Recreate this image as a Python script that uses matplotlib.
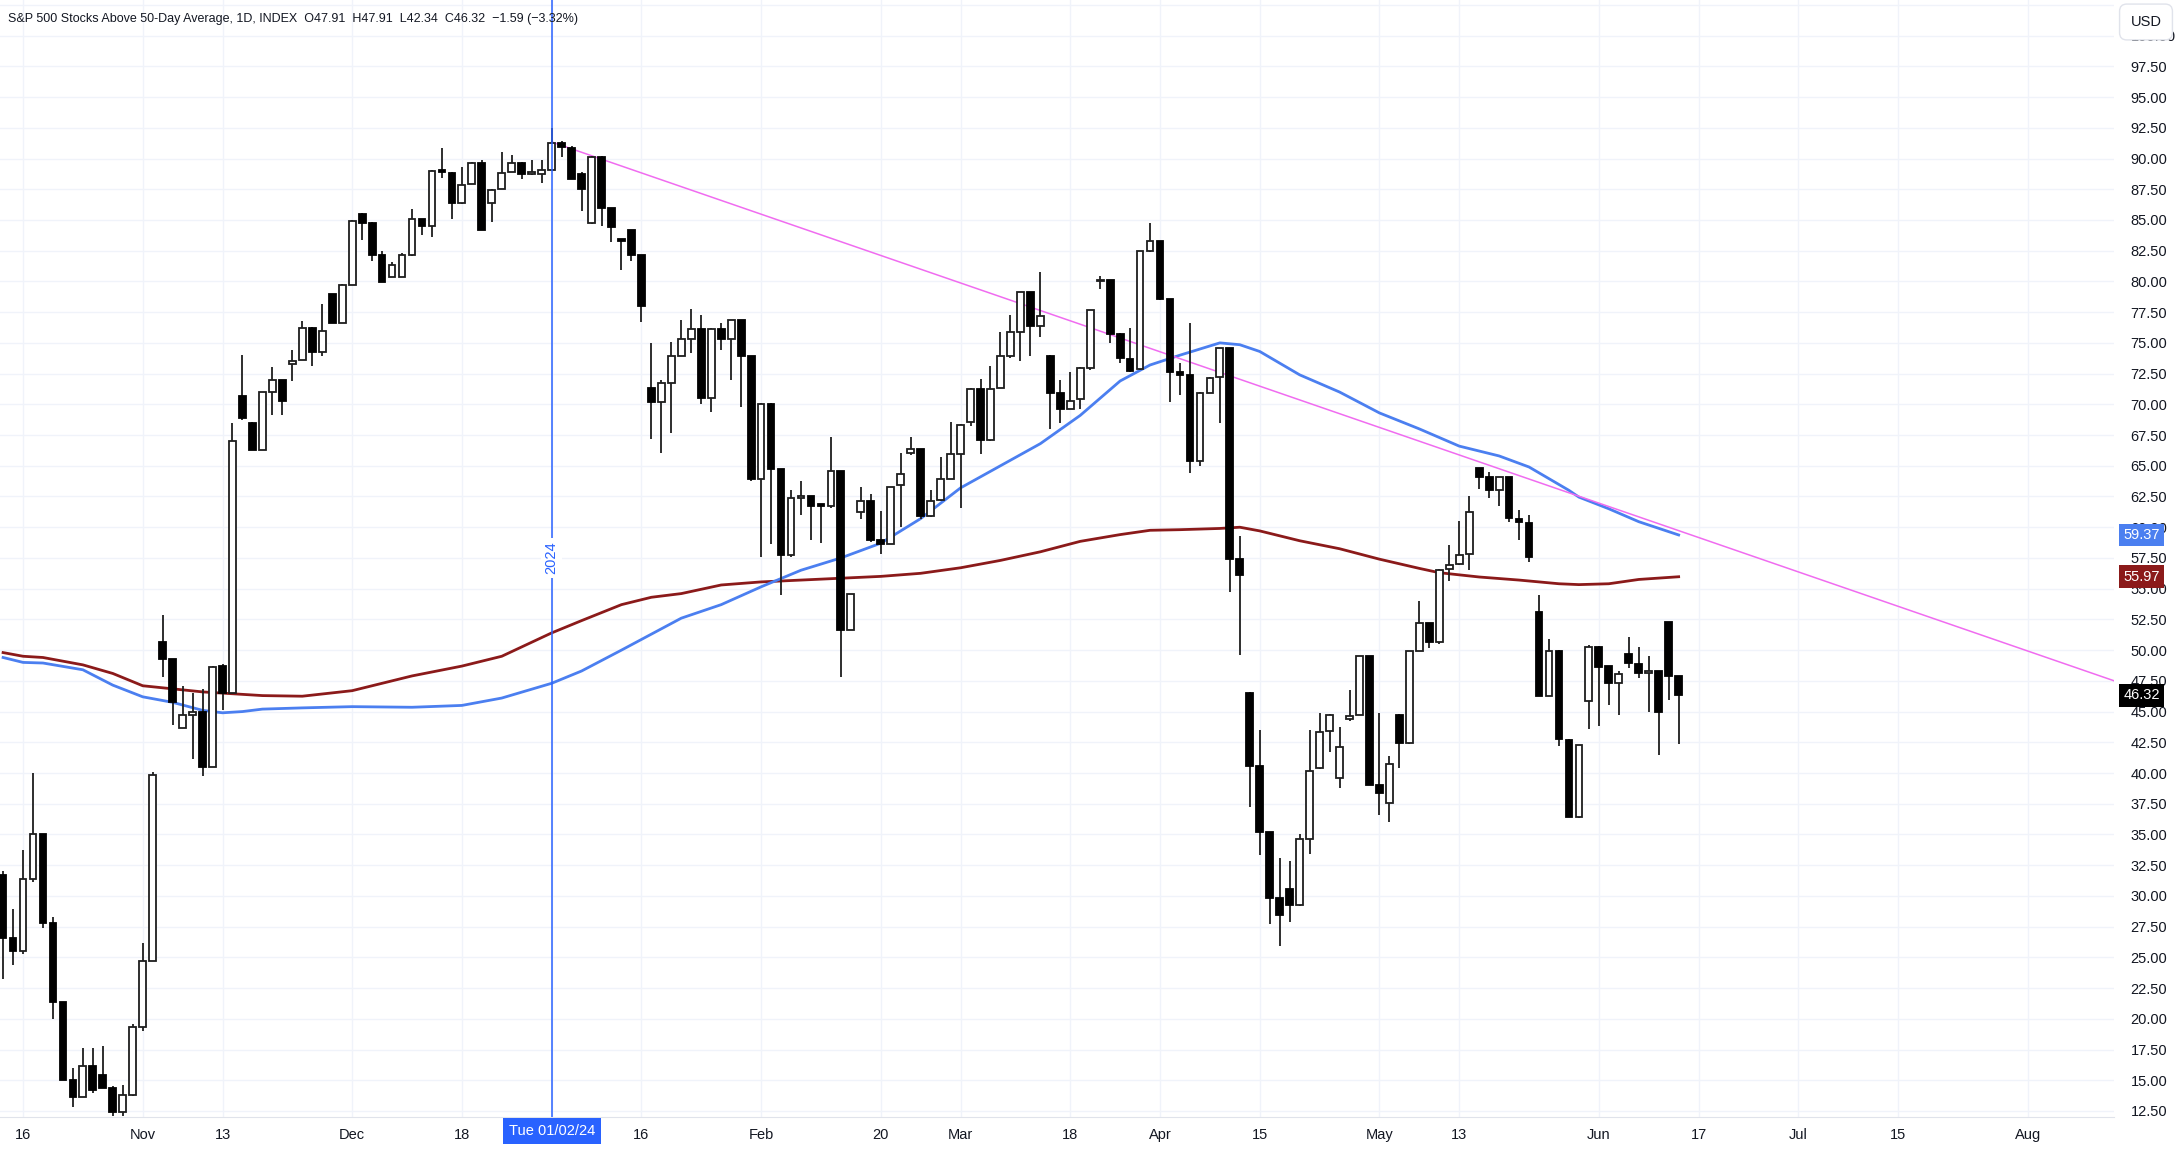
import numpy as np
import pandas as pd
import matplotlib
matplotlib.use("Agg")
import matplotlib.pyplot as plt
import matplotlib.transforms as mtransforms

plt.rcParams["font.family"] = ["Liberation Sans", "DejaVu Sans"]

# --- trading calendar (NYSE holidays inside the window) ---
holidays = ["2023-11-23", "2023-12-25", "2024-01-01", "2024-01-15",
            "2024-02-19", "2024-03-29", "2024-05-27"]
dates = pd.bdate_range("2023-10-12", "2024-06-13", freq="C", holidays=holidays)
future = pd.bdate_range("2024-06-14", "2024-08-30")
all_days = dates.append(future)

# --- daily OHLC ---
opens = [31.7, 26.6, 25.55, 31.4, 35.0, 27.8, 21.4, 15.0, 13.6, 16.2,
         15.4, 14.4, 12.4, 13.78, 19.36, 24.7, 50.65, 49.25, 43.7, 44.7,
         45.0, 40.5, 48.7, 46.5, 70.65, 68.45, 66.3, 71.0, 72.0, 73.25,
         73.6, 76.2, 74.25, 78.95, 76.6, 79.75, 85.5, 84.75, 82.15, 80.4,
         80.4, 82.15, 85.05, 84.55, 89.1, 88.85, 86.4, 87.95, 89.65, 86.4,
         87.55, 88.9, 89.65, 88.75, 88.75, 89.1, 91.25, 90.85, 88.75, 84.75,
         90.1, 85.95, 83.4, 84.15, 82.15, 71.35, 70.2, 71.75, 73.95, 75.35,
         76.15, 70.5, 76.15, 75.35, 76.9, 73.95, 63.95, 70.05, 64.7, 57.7,
         62.35, 62.5, 61.8, 61.75, 64.6, 51.65, 61.25, 62.1, 58.95, 58.65,
         63.4, 66.0, 66.35, 60.9, 62.2, 63.95, 65.95, 68.55, 71.25, 67.1,
         71.35, 73.9, 75.9, 79.1, 76.4, 73.95, 70.95, 69.6, 70.45, 72.95,
         80.0, 80.1, 75.75, 73.7, 72.85, 82.5, 83.3, 78.55, 72.6, 72.4,
         65.4, 70.95, 72.2, 74.55, 57.45, 46.5, 40.55, 35.2, 29.8, 30.6,
         29.3, 34.6, 40.4, 43.4, 39.6, 44.4, 44.75, 49.5, 39.0, 37.6,
         44.75, 42.45, 49.95, 52.2, 50.65, 56.6, 57.0, 57.85, 64.8, 64.05,
         63.05, 64.05, 60.7, 60.35, 53.1, 46.3, 49.9, 42.7, 36.4, 45.9,
         50.25, 48.7, 47.3, 49.7, 48.85, 48.15, 48.3, 52.25, 47.91]
highs = [32.0, 28.95, 33.7, 40.0, 35.0, 28.3, 21.4, 16.0, 17.6, 17.6,
         17.8, 14.5, 14.65, 19.6, 26.2, 40.1, 52.85, 49.3, 47.1, 46.5,
         46.85, 48.7, 48.9, 68.45, 74.0, 68.6, 71.0, 73.0, 72.0, 74.4,
         76.8, 76.3, 78.15, 79.0, 79.8, 85.0, 85.6, 84.8, 82.5, 81.6,
         82.3, 85.9, 85.1, 89.1, 90.85, 88.9, 89.3, 89.7, 89.85, 87.5,
         90.55, 90.3, 89.7, 89.85, 89.85, 92.45, 91.45, 91.0, 88.9, 90.2,
         90.2, 85.95, 83.4, 84.2, 82.15, 74.95, 71.95, 75.1, 76.9, 77.75,
         77.3, 76.2, 76.6, 76.9, 76.9, 73.95, 70.1, 70.1, 64.7, 63.0,
         63.8, 62.5, 61.8, 67.35, 64.6, 54.5, 63.3, 62.7, 61.35, 63.3,
         66.0, 67.35, 66.4, 63.0, 65.7, 68.55, 68.4, 71.3, 72.1, 73.1,
         75.85, 77.3, 79.1, 79.1, 80.8, 74.0, 71.95, 72.6, 73.0, 77.7,
         80.45, 80.1, 75.8, 76.25, 82.5, 84.75, 83.3, 78.6, 73.35, 76.6,
         71.0, 72.2, 74.6, 74.6, 59.25, 46.6, 43.5, 35.2, 33.1, 32.8,
         35.0, 43.5, 44.9, 44.8, 43.75, 46.75, 49.5, 49.5, 44.9, 41.4,
         44.8, 49.95, 54.0, 52.2, 56.6, 58.55, 60.5, 62.5, 64.8, 64.5,
         64.05, 64.1, 61.4, 61.0, 54.5, 50.9, 50.0, 42.8, 42.3, 50.45,
         50.3, 48.7, 48.3, 51.05, 50.25, 49.5, 48.3, 52.3, 47.91]
lows = [23.2, 24.4, 25.3, 31.1, 27.4, 20.0, 15.0, 12.8, 13.6, 14.0,
        14.4, 12.1, 12.1, 13.7, 19.0, 24.7, 47.85, 43.9, 43.7, 41.15,
        39.75, 40.5, 45.1, 46.5, 68.7, 66.3, 66.3, 69.1, 69.1, 71.9,
        73.6, 73.1, 73.9, 76.6, 76.6, 79.75, 83.4, 81.7, 80.0, 80.4,
        80.4, 82.1, 83.8, 83.6, 88.4, 85.1, 86.3, 87.9, 84.2, 84.8,
        87.5, 88.9, 88.3, 88.7, 88.0, 89.1, 90.1, 88.3, 85.75, 84.7,
        84.55, 83.2, 80.9, 81.7, 76.7, 67.2, 66.0, 67.7, 73.9, 74.15,
        70.0, 69.35, 74.4, 72.0, 69.8, 63.8, 57.6, 58.65, 54.5, 57.6,
        61.0, 58.95, 58.75, 61.6, 47.8, 51.6, 60.65, 58.8, 57.85, 58.6,
        60.05, 65.9, 60.65, 60.8, 62.1, 63.9, 61.6, 68.2, 65.95, 67.0,
        71.3, 73.8, 73.55, 73.95, 75.45, 68.0, 68.45, 69.6, 69.65, 72.8,
        79.35, 75.0, 73.4, 72.6, 72.8, 82.4, 78.5, 70.2, 70.75, 64.45,
        65.0, 70.9, 68.45, 54.7, 49.6, 37.2, 33.3, 27.7, 25.9, 27.9,
        29.2, 33.45, 40.3, 41.7, 38.75, 44.2, 44.7, 39.0, 36.6, 36.0,
        40.4, 42.4, 49.9, 50.2, 50.5, 55.6, 56.9, 56.5, 63.1, 62.4,
        61.7, 60.4, 59.0, 57.2, 46.3, 46.3, 42.2, 36.4, 36.3, 43.55,
        43.8, 45.55, 44.75, 48.55, 47.7, 44.95, 41.45, 45.95, 42.34]
closes = [26.6, 25.55, 31.4, 35.0, 27.8, 21.4, 15.0, 13.6, 16.2, 14.2,
          14.4, 12.4, 13.78, 19.36, 24.7, 39.85, 49.25, 45.75, 44.7, 45.0,
          40.5, 48.65, 46.5, 67.0, 68.85, 66.3, 71.0, 72.0, 70.3, 73.55,
          76.2, 74.25, 76.0, 76.6, 79.75, 84.95, 84.75, 82.15, 79.95, 81.3,
          82.15, 85.05, 84.55, 89.0, 88.9, 86.4, 87.85, 89.65, 84.2, 87.45,
          88.85, 89.65, 88.75, 88.75, 89.1, 91.25, 90.9, 88.3, 87.55, 90.1,
          85.95, 84.4, 83.3, 82.15, 78.0, 70.2, 71.75, 73.95, 75.35, 76.15,
          70.5, 76.15, 75.35, 76.9, 73.95, 63.95, 70.05, 64.7, 57.7, 62.35,
          62.5, 61.75, 61.75, 64.6, 51.65, 54.55, 62.1, 58.95, 58.65, 63.3,
          64.35, 66.35, 60.9, 62.1, 63.9, 65.95, 68.35, 71.25, 67.1, 71.25,
          73.9, 75.85, 79.1, 76.4, 77.15, 70.95, 69.6, 70.3, 72.95, 77.7,
          80.1, 75.75, 73.75, 72.7, 82.5, 83.3, 78.55, 72.6, 72.4, 65.4,
          70.95, 72.15, 74.55, 57.45, 56.1, 40.55, 35.2, 29.8, 28.45, 29.3,
          34.6, 40.15, 43.3, 44.75, 42.15, 44.65, 49.5, 39.0, 38.4, 40.75,
          42.45, 49.9, 52.2, 50.65, 56.55, 56.95, 57.75, 61.2, 64.05, 63.05,
          64.05, 60.75, 60.4, 57.55, 46.3, 49.9, 42.75, 36.4, 42.3, 50.25,
          48.65, 47.3, 48.05, 48.95, 48.15, 48.3, 44.95, 47.9, 46.32]

# --- moving averages (bar number, value) ---
ma50_bars = [0, 2, 4, 8, 11, 14, 17, 20, 22, 24, 26, 30, 35, 41, 46, 50, 55,
             58, 62, 65, 68, 72, 76, 80, 84, 88, 92, 96, 100, 104, 108, 112,
             115, 118, 122, 124, 126, 130, 134, 138, 142, 146, 148, 150, 153,
             157, 158, 161, 164, 168]
ma50_vals = [49.4, 49.0, 48.95, 48.4, 47.15, 46.2, 45.75, 45.1, 44.9, 45.0,
             45.2, 45.3, 45.4, 45.35, 45.5, 46.1, 47.3, 48.3, 50.0, 51.3,
             52.6, 53.7, 55.15, 56.5, 57.5, 58.7, 60.7, 63.2, 65.0, 66.8,
             69.1, 71.9, 73.2, 74.0, 75.0, 74.85, 74.3, 72.4, 71.0, 69.3,
             68.0, 66.6, 66.2, 65.8, 64.9, 63.0, 62.45, 61.5, 60.45, 59.37]
ma200_bars = [0, 2, 4, 8, 11, 14, 17, 20, 22, 26, 30, 35, 41, 46, 50, 55, 58,
              62, 65, 68, 72, 76, 80, 84, 88, 92, 96, 100, 104, 108, 112, 115,
              118, 122, 124, 126, 130, 134, 138, 142, 144, 148, 152, 156, 158,
              161, 164, 168]
ma200_vals = [49.8, 49.5, 49.4, 48.8, 48.1, 47.1, 46.85, 46.6, 46.5, 46.3,
              46.25, 46.7, 47.9, 48.7, 49.5, 51.4, 52.4, 53.7, 54.3, 54.6,
              55.3, 55.55, 55.7, 55.85, 56.0, 56.25, 56.7, 57.3, 58.0, 58.85,
              59.4, 59.75, 59.8, 59.9, 60.0, 59.7, 58.9, 58.25, 57.4, 56.65,
              56.3, 55.95, 55.7, 55.4, 55.33, 55.4, 55.75, 55.97]

# --- drawn trendline anchors and crosshair ---
trend_a = ("2024-01-02", 91.35)
trend_b = ("2024-05-07", 67.0)
cross_date = "2024-01-02"

tick_dates = ["2023-10-16", "2023-11-01", "2023-11-13", "2023-12-01",
              "2023-12-18", "2024-01-16", "2024-02-01", "2024-02-20",
              "2024-03-01", "2024-03-18", "2024-04-01", "2024-04-15",
              "2024-05-01", "2024-05-13", "2024-06-03", "2024-06-17",
              "2024-07-01", "2024-07-15", "2024-08-01"]
tick_labels = ["16", "Nov", "13", "Dec", "18", "16", "Feb", "20", "Mar", "18",
               "Apr", "15", "May", "13", "Jun", "17", "Jul", "15", "Aug"]
y_ticks = np.arange(12.5, 102.6, 2.5)

title = ("S&P 500 Stocks Above 50-Day Average, 1D, INDEX  O47.91  H47.91  "
         "L42.34  C46.32  \u22121.59 (\u22123.32%)")

# ---------------------------------------------------------------
opens, highs, lows, closes = map(np.asarray, (opens, highs, lows, closes))
x = np.arange(len(dates))


def bar_of(d):
    return all_days.get_loc(pd.Timestamp(d))


TEXT = "#131722"
GRID = "#f0f3fa"
BLUE = "#2962ff"

fig = plt.figure(figsize=(21.78, 11.52), dpi=100)
ax = fig.add_axes([0, 35 / 1152, 2114 / 2178, 1117 / 1152])

x_right = 211.65
ax.set_xlim(-0.31, x_right)
ax.set_ylim(12.01, 102.9)

# grid
ax.set_yticks(y_ticks)
ax.set_yticklabels(["" if v > 100 else f"{v:.2f}" for v in y_ticks])
tick_pos = [bar_of(d) for d in tick_dates]
ax.set_xticks(tick_pos)
ax.set_xticklabels(tick_labels)
ax.grid(True, color=GRID, lw=1.0, zorder=0)
ax.axvline(bar_of(cross_date), color=GRID, lw=1.0, zorder=0)

ax.yaxis.tick_right()
ax.tick_params(axis="y", length=0, pad=12, labelsize=10.5, labelcolor=TEXT)
ax.tick_params(axis="x", length=0, pad=8, labelsize=10.5, labelcolor=TEXT)
for s in ["top", "left", "right"]:
    ax.spines[s].set_visible(False)
ax.spines["bottom"].set_color("#e0e3eb")

# moving averages
ax.plot(ma200_bars, ma200_vals, color="#8b1a1a", lw=2.0, zorder=2)
ax.plot(ma50_bars, ma50_vals, color="#4b7ff0", lw=2.0, zorder=2)

# trendline (extended right)
xa, ya = bar_of(trend_a[0]), trend_a[1]
xb, yb = bar_of(trend_b[0]), trend_b[1]
slope = (yb - ya) / (xb - xa)
ax.plot([xa, x_right], [ya, ya + slope * (x_right - xa)],
        color="#f06cf0", lw=1.1, zorder=2)

# candles
up = closes >= opens
bottom = np.minimum(opens, closes)
height = np.maximum(np.abs(closes - opens), 0.15)
ax.vlines(x, lows, highs, color="#1e1e1e", lw=1.3, zorder=3)
ax.bar(x[up], height[up], bottom=bottom[up], width=0.68, color="white",
       edgecolor="#1e1e1e", linewidth=1.3, zorder=4)
ax.bar(x[~up], height[~up], bottom=bottom[~up], width=0.68, color="black",
       edgecolor="black", linewidth=1.3, zorder=4)

# crosshair on 2024-01-02
xc = bar_of(cross_date)
ax.axvline(xc, color=BLUE, lw=1.1, zorder=5)
ax.text(xc, 57.5, "2024", rotation=90, color=BLUE, fontsize=10.5,
        ha="center", va="center", zorder=6,
        bbox=dict(boxstyle="square,pad=0.25", fc="white", ec="none"))
trans_x = mtransforms.blended_transform_factory(ax.transData, ax.transAxes)
ax.text(xc, -0.0125, "Tue 01/02/24", transform=trans_x, color="white",
        fontsize=10.5, ha="center", va="center", zorder=7, clip_on=False,
        bbox=dict(boxstyle="square,pad=0.4", fc=BLUE, ec="none"))

# last-value labels on the price scale
trans_y = mtransforms.blended_transform_factory(ax.transAxes, ax.transData)
for val, col in [(ma50_vals[-1], "#4b7ff0"), (ma200_vals[-1], "#8b1a1a"),
                 (closes[-1], "black")]:
    ax.text(1.0045, val, f"{val:.2f}", transform=trans_y, color="white",
            fontsize=10.5, ha="left", va="center", zorder=7, clip_on=False,
            bbox=dict(boxstyle="square,pad=0.3", fc=col, ec="none"))

fig.text(8 / 2178, 1 - 19 / 1152, title, fontsize=9.0, color=TEXT, va="center")
fig.text(2146 / 2178, 1 - 22 / 1152, "USD", fontsize=10.5, color=TEXT,
         ha="center", va="center",
         bbox=dict(boxstyle="round,pad=0.75,rounding_size=0.5", fc="white",
                   ec="#e0e3eb", lw=1.0))

fig.savefig("out.png", dpi=100)
